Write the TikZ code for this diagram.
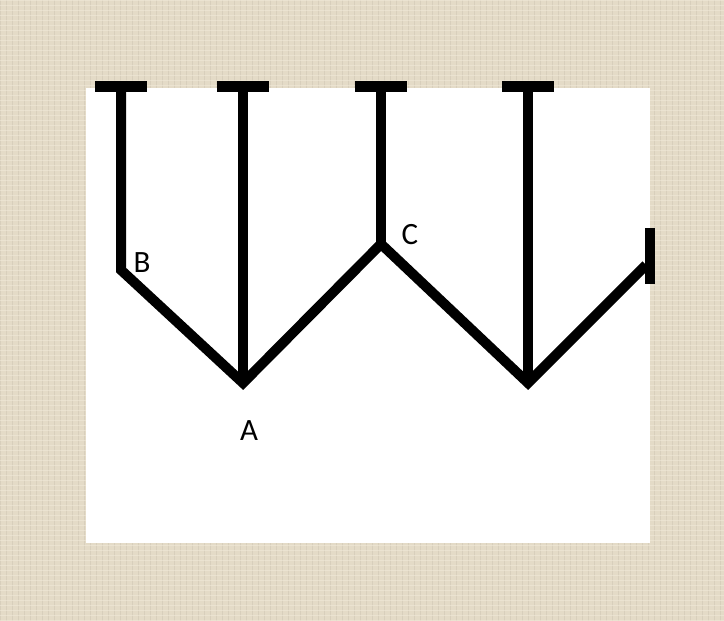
\documentclass[tikz,border=0pt]{standalone}
\usepackage{fontspec}
\setmainfont{Carlito}
\definecolor{linen}{RGB}{228,219,199}
\definecolor{linendark}{RGB}{205,196,178}
\definecolor{linenlight}{RGB}{240,233,216}
\begin{document}
\begin{tikzpicture}[x=1pt,y=-1pt,
  stroke/.style={line width=10pt,line cap=butt,line join=miter,black},
  tbar/.style={line width=11pt,line cap=butt,black},
  lbl/.style={font=\fontsize{31}{31}\selectfont,inner sep=0pt}]
\useasboundingbox (0,0) rectangle (724,621);
% background linen
\fill[linen] (0,0) rectangle (724,621);
\foreach \i in {0,6,...,724} {\draw[linendark,line width=0.8pt,opacity=0.5] (\i,0) -- (\i,621);}
\foreach \j in {0,5,...,621} {\draw[linenlight,line width=1pt,opacity=0.6] (0,\j) -- (724,\j);}
\fill[white] (86,88) rectangle (650,543);
% key points
\coordinate (T1) at (121,86.5);
\coordinate (T2) at (243,86.5);
\coordinate (T3) at (381,86.5);
\coordinate (T4) at (528,86.5);
\coordinate (B) at (121,270);
\coordinate (A) at (243,383);
\coordinate (C) at (381,244);
\coordinate (D) at (528,383);
\coordinate (E) at (646,265);
\coordinate (Etop) at (650,228);
\coordinate (Ebot) at (650,284);
% tops
\foreach \t in {T1,T2,T3,T4} {\draw[tbar] ([xshift=-26pt]\t) -- ([xshift=26pt]\t);}
% main path
\draw[stroke] (T1) -- (B) -- (A) -- (C) -- (D) -- (E);
\draw[stroke] (T2) -- (A);
\draw[stroke] (T3) -- (C);
\draw[stroke] (T4) -- (D);
\draw[stroke] (Etop) -- (Ebot);
% labels
\node[lbl] (lB) at (142,263) {B};
\node[lbl] (lA) at (249,431) {A};
\node[lbl] (lC) at (410,235) {C};
\end{tikzpicture}
\end{document}
